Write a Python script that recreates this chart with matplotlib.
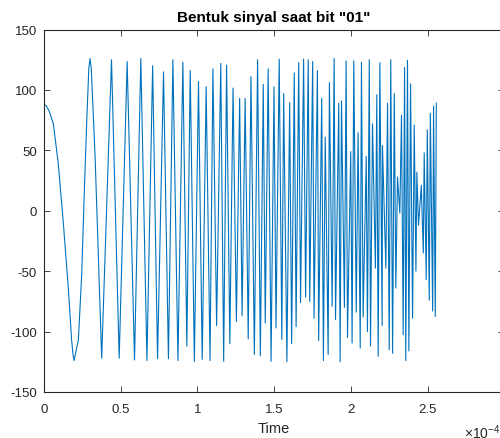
import numpy as np
import matplotlib
matplotlib.use("Agg")
import matplotlib.pyplot as plt

# Time (in units of 1e-4 s) and amplitude of the signal's turning points
time_e4 = [
    0.000, 0.015, 0.035, 0.061, 0.093, 0.126, 0.159, 0.180, 0.189, 0.196, 0.204, 0.224, 0.246, 0.263,
    0.278, 0.292, 0.300, 0.308, 0.333,
    0.376, 0.440, 0.490, 0.542, 0.590, 0.631, 0.671, 0.708, 0.740, 0.779, 0.811, 0.840,
    0.873, 0.905, 0.931, 0.953, 0.980, 1.007, 1.031, 1.057, 1.082, 1.101, 1.125, 1.152,
    1.171, 1.190, 1.211, 1.232, 1.254, 1.275, 1.291, 1.311, 1.331, 1.349, 1.371, 1.392,
    1.410, 1.429, 1.442, 1.461, 1.480, 1.499, 1.512, 1.533, 1.550, 1.562, 1.583, 1.601,
    1.614, 1.631, 1.643, 1.660, 1.672, 1.692, 1.705, 1.722, 1.732, 1.751, 1.760, 1.782,
    1.790, 1.810, 1.821, 1.833, 1.852, 1.860, 1.878, 1.891, 1.900, 1.921, 1.930, 1.939,
    1.958, 1.969, 1.978, 1.999, 2.008, 2.019, 2.035, 2.047, 2.061, 2.069, 2.080, 2.100,
    2.108, 2.120, 2.128, 2.141, 2.160, 2.169, 2.178, 2.189, 2.204, 2.206, 2.228, 2.239,
    2.250, 2.260, 2.272, 2.283, 2.293, 2.304, 2.319, 2.330, 2.341, 2.350, 2.358, 2.369,
    2.378, 2.389, 2.402, 2.413, 2.424, 2.430, 2.441, 2.459, 2.472, 2.478, 2.491, 2.498,
    2.511, 2.518, 2.533, 2.539, 2.550, 2.557,
]
amplitude = [
    88, 87, 82, 72, 39, -10, -65, -107, -119, -124, -119, -107, -52, 17,
    72, 118, 126, 118, 45,
    -122, 125, -122, 123.5, -123.5, 126, -124, 120, -122.5, 115, -122.5, 125,
    -124, 123, -112, 116, -124.6, 107, -123, 102.6, -124, 117.5, -95, 122,
    -124.6, 120.5, -110, 101.5, -91.6, 93, -87, 93, -106, 111, -119, 125,
    -120, 104.5, -93, 117.5, -124.6, 102.6, -97, 125.5, -106.5, 97, -125, 89.4,
    -110, 114, -96, 122.5, -76, 125.5, -71.5, 125, -75, 123.5, -89, 116,
    -107.5, 93, -124, 61, -119, 106, -79, 126, -90, 89, -125, 91,
    -80, 124, -105, 49, -109.5, 124, -84, 64.6, -113.6, 123, -88, 45,
    -100, 125, -112, 72, -47.5, 96, -120.5, 122.5, -95, 54, -47.5, 89,
    -115, 125, -118, 97, -64, 28, -2, 79, -102.6, 118.6, -124, 124.6,
    -116, 105, -89, 71, -50, 32, -12, 21, -35, 48, -57, 67,
    -74, 80.6, -83, 86.6, -87.5, 89,
]

title_text = 'Bentuk sinyal saat bit "01"'
x_label = "Time"
x_ticks_e4 = [0, 0.5, 1, 1.5, 2, 2.5, 3]
x_tick_labels = ["0", "0.5", "1", "1.5", "2", "2.5", "3"]
y_ticks = [-150, -100, -50, 0, 50, 100, 150]
y_tick_labels = ["-150", "-100", "-50", "0", "50", "100", "150"]
x_exponent = r"$\times\mathregular{10^{-4}}$"

plt.rcParams["font.family"] = ["Liberation Sans", "DejaVu Sans"]
plt.rcParams["axes.unicode_minus"] = False
plt.rcParams["mathtext.fontset"] = "custom"
plt.rcParams["mathtext.rm"] = "Liberation Sans"

fig = plt.figure(figsize=(5.0, 4.39), dpi=100)
ax = fig.add_axes([0.088, 0.1048, 0.9206, 0.8257])

t = np.array(time_e4) * 1e-4
ax.plot(t, amplitude, color="#0072BD", linewidth=0.8)

ax.set_xlim(0, 3e-4)
ax.set_ylim(-150, 150)
ax.set_xticks(np.array(x_ticks_e4) * 1e-4)
ax.set_xticklabels(x_tick_labels)
ax.set_yticks(y_ticks)
ax.set_yticklabels(y_tick_labels)

dark = "#262626"
for s in ax.spines.values():
    s.set_color(dark)
    s.set_linewidth(0.8)
ax.tick_params(direction="in", top=True, right=True, length=4, width=0.6,
               colors=dark, labelsize=9.5, labelcolor=dark)
ax.tick_params(axis="x", pad=8)
ax.tick_params(axis="y", pad=5)

ax.set_title(title_text, fontsize=11, fontweight="bold", color="black", pad=6)
ax.set_xlabel(x_label, fontsize=10.5, color=dark, labelpad=4)

fig.text(464 / 500, 1 - 433 / 439, x_exponent, fontsize=10, color=dark,
         ha="left", va="center")

fig.savefig("out.png", dpi=100)
